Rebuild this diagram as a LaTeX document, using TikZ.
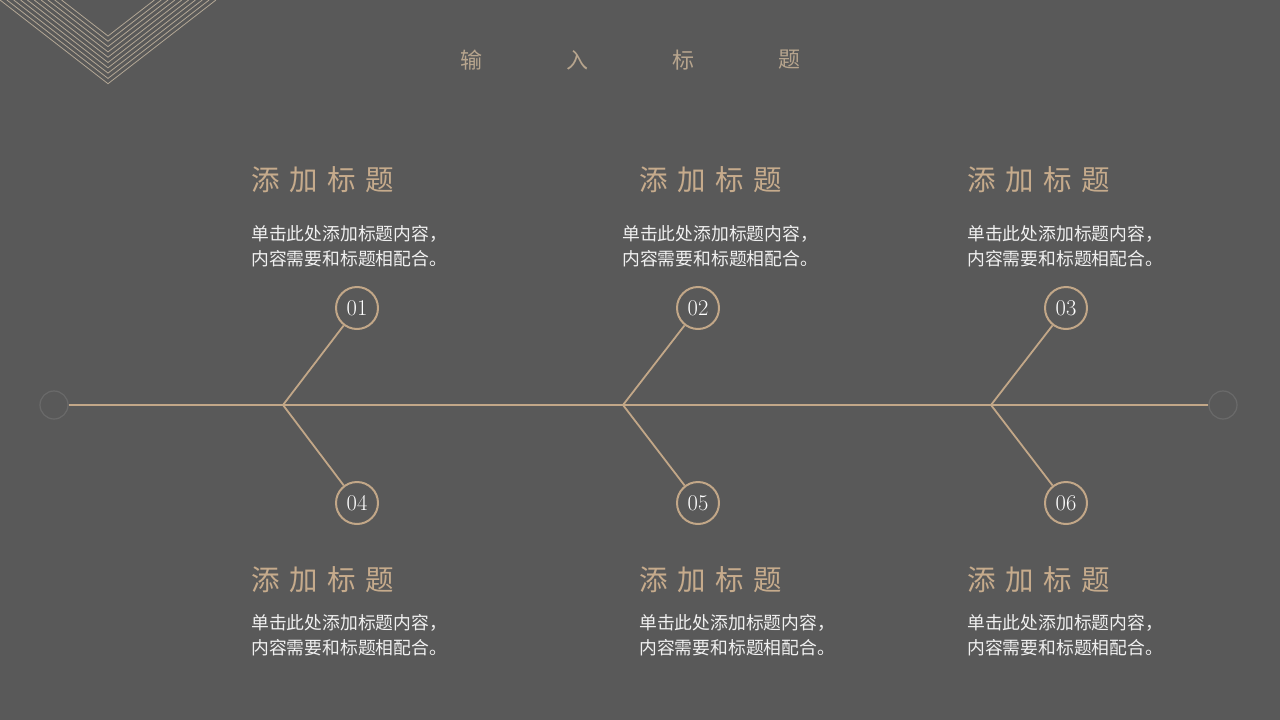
\documentclass[tikz,border=0pt]{standalone}
\usepackage{fontspec}
\usetikzlibrary{positioning}
\newfontfamily\cjk{Noto Sans CJK SC}
\newfontfamily\cjkwide[LetterSpace=34]{Noto Sans CJK SC}
\definecolor{bggray}{HTML}{595959}
\definecolor{tan}{HTML}{C2A788}
\definecolor{headtan}{HTML}{C6AB8C}
\definecolor{titletan}{HTML}{B7A58E}
\definecolor{chevtan}{HTML}{B3A795}
\definecolor{endgray}{HTML}{6A6A6A}
\newcommand{\card}[5]{% name, heading x/y, body x/y
  \node[headtxt] (#1) at (#2,#3) {添加标题};
  \node[bodytxt] (#1b) at (#4,#5) {单击此处添加标题内容，\\内容需要和标题相配合。};}

\begin{document}
\begin{tikzpicture}[x=1pt,y=-1pt,
  tanline/.style={draw=tan,line width=1.8pt},
  numc/.style={circle,draw=tan,line width=2pt,minimum size=42pt,inner sep=0pt,
    text=white,font=\fontsize{22.5}{22.5}\selectfont},
  endc/.style={circle,draw=endgray,line width=1.2pt,minimum size=28pt,inner sep=0pt},
  headtxt/.style={anchor=west,inner sep=0pt,text=headtan,font=\cjkwide\fontsize{28.5}{30}\selectfont},
  bodytxt/.style={anchor=west,inner sep=0pt,align=left,text=white!94!black,
    font=\cjk\fontsize{17.8}{24.5}\selectfont},
  titletxt/.style={inner sep=0pt,text=titletan,font=\cjk\fontsize{22}{22}\selectfont}]
  \fill[bggray] (0,0) rectangle (1280,720);
  \useasboundingbox (0,0) rectangle (1280,720);
  % corner chevron
  \foreach \i in {0,...,9} {\draw[chevtan,line width=0.8pt]
    ({108-(36+5.3*\i)*1.29},0) -- (108,{36+5.3*\i}) -- ({108+(36+5.3*\i)*1.29},0);}
  % title
  \foreach \c [count=\k] in {输,入,标,题} {\node[titletxt] (t\k) at ({471+106.3*(\k-1)},60) {\c};}
  % spine
  \node[endc] (e1) at (54,405) {};
  \node[endc] (e2) at (1223,405) {};
  \draw[tanline] (e1) -- (e2);
  \coordinate (b1) at (283,405);
  \coordinate (b2) at (623,405);
  \coordinate (b3) at (991,405);
  \node[numc] (c1) at (357,308) {01};
  \node[numc] (c2) at (698,308) {02};
  \node[numc] (c3) at (1066,308) {03};
  \node[numc] (c4) at (357,503) {04};
  \node[numc] (c5) at (698,503) {05};
  \node[numc] (c6) at (1066,503) {06};
  \draw[tanline] (b1) -- (c1) (b1) -- (c4);
  \draw[tanline] (b2) -- (c2) (b2) -- (c5);
  \draw[tanline] (b3) -- (c3) (b3) -- (c6);
  % text blocks
  \card{h1}{251}{180}{251}{246}
  \card{h2}{639}{180}{622}{246}
  \card{h3}{967}{180}{967}{246}
  \card{h4}{251}{580}{251}{635}
  \card{h5}{639}{580}{639}{635}
  \card{h6}{967}{580}{967}{635}
\end{tikzpicture}
\end{document}
